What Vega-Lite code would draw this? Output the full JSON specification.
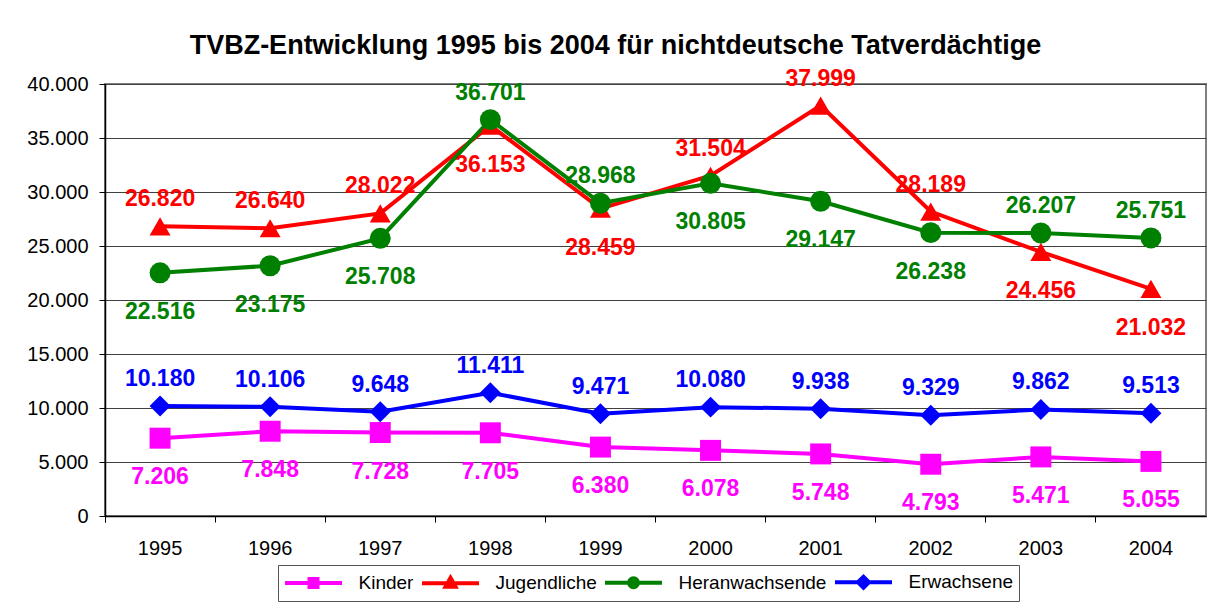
{
  "$schema": "https://vega.github.io/schema/vega-lite/v6.json",
  "autosize": {"type": "none"},
  "width": 1101,
  "height": 432,
  "padding": {"left": 105, "top": 84, "right": 14, "bottom": 96},
  "background": "white",
  "title": {
    "text": "TVBZ-Entwicklung 1995 bis 2004 für nichtdeutsche Tatverdächtige",
    "font": "Liberation Sans",
    "fontSize": 27,
    "fontWeight": "bold",
    "color": "black",
    "anchor": "middle",
    "frame": "group",
    "dx": -40,
    "offset": 8
  },
  "config": {
    "locale": {"number": {"decimal": ",", "thousands": ".", "grouping": [3], "currency": ["", " €"]}},
    "view": {"stroke": "#808080", "strokeWidth": 2},
    "font": "Liberation Sans"
  },
  "data": {
    "values": [
      {"Jahr": "1995", "Gruppe": "Kinder", "TVBZ": 7206},
      {"Jahr": "1996", "Gruppe": "Kinder", "TVBZ": 7848},
      {"Jahr": "1997", "Gruppe": "Kinder", "TVBZ": 7728},
      {"Jahr": "1998", "Gruppe": "Kinder", "TVBZ": 7705},
      {"Jahr": "1999", "Gruppe": "Kinder", "TVBZ": 6380},
      {"Jahr": "2000", "Gruppe": "Kinder", "TVBZ": 6078},
      {"Jahr": "2001", "Gruppe": "Kinder", "TVBZ": 5748},
      {"Jahr": "2002", "Gruppe": "Kinder", "TVBZ": 4793},
      {"Jahr": "2003", "Gruppe": "Kinder", "TVBZ": 5471},
      {"Jahr": "2004", "Gruppe": "Kinder", "TVBZ": 5055},
      {"Jahr": "1995", "Gruppe": "Jugendliche", "TVBZ": 26820},
      {"Jahr": "1996", "Gruppe": "Jugendliche", "TVBZ": 26640},
      {"Jahr": "1997", "Gruppe": "Jugendliche", "TVBZ": 28022},
      {"Jahr": "1998", "Gruppe": "Jugendliche", "TVBZ": 36153},
      {"Jahr": "1999", "Gruppe": "Jugendliche", "TVBZ": 28459},
      {"Jahr": "2000", "Gruppe": "Jugendliche", "TVBZ": 31504},
      {"Jahr": "2001", "Gruppe": "Jugendliche", "TVBZ": 37999},
      {"Jahr": "2002", "Gruppe": "Jugendliche", "TVBZ": 28189},
      {"Jahr": "2003", "Gruppe": "Jugendliche", "TVBZ": 24456},
      {"Jahr": "2004", "Gruppe": "Jugendliche", "TVBZ": 21032},
      {"Jahr": "1995", "Gruppe": "Heranwachsende", "TVBZ": 22516},
      {"Jahr": "1996", "Gruppe": "Heranwachsende", "TVBZ": 23175},
      {"Jahr": "1997", "Gruppe": "Heranwachsende", "TVBZ": 25708},
      {"Jahr": "1998", "Gruppe": "Heranwachsende", "TVBZ": 36701},
      {"Jahr": "1999", "Gruppe": "Heranwachsende", "TVBZ": 28968},
      {"Jahr": "2000", "Gruppe": "Heranwachsende", "TVBZ": 30805},
      {"Jahr": "2001", "Gruppe": "Heranwachsende", "TVBZ": 29147},
      {"Jahr": "2002", "Gruppe": "Heranwachsende", "TVBZ": 26238},
      {"Jahr": "2003", "Gruppe": "Heranwachsende", "TVBZ": 26207},
      {"Jahr": "2004", "Gruppe": "Heranwachsende", "TVBZ": 25751},
      {"Jahr": "1995", "Gruppe": "Erwachsene", "TVBZ": 10180},
      {"Jahr": "1996", "Gruppe": "Erwachsene", "TVBZ": 10106},
      {"Jahr": "1997", "Gruppe": "Erwachsene", "TVBZ": 9648},
      {"Jahr": "1998", "Gruppe": "Erwachsene", "TVBZ": 11411},
      {"Jahr": "1999", "Gruppe": "Erwachsene", "TVBZ": 9471},
      {"Jahr": "2000", "Gruppe": "Erwachsene", "TVBZ": 10080},
      {"Jahr": "2001", "Gruppe": "Erwachsene", "TVBZ": 9938},
      {"Jahr": "2002", "Gruppe": "Erwachsene", "TVBZ": 9329},
      {"Jahr": "2003", "Gruppe": "Erwachsene", "TVBZ": 9862},
      {"Jahr": "2004", "Gruppe": "Erwachsene", "TVBZ": 9513}
    ]
  },
  "transform": [
    {"window": [{"op": "rank", "as": "rang"}], "groupby": ["Jahr"], "sort": [{"field": "TVBZ", "order": "descending"}]},
    {"calculate": "datum.Gruppe", "as": "Symbol"}
  ],
  "encoding": {
    "x": {
      "field": "Jahr", "type": "ordinal", "bandPosition": 0.5,
      "scale": {"type": "band", "paddingInner": 0, "paddingOuter": 0},
      "axis": {
        "title": null, "labelAngle": 0, "labelFontSize": 20, "labelColor": "black",
        "labelFont": "Liberation Sans", "bandPosition": 0, "tickExtra": true,
        "tickSize": 6, "tickColor": "black", "domainColor": "black", "domainWidth": 1.5,
        "labelPadding": 16, "grid": false
      }
    },
    "y": {
      "field": "TVBZ", "type": "quantitative",
      "scale": {"domain": [0, 40000], "nice": false},
      "axis": {
        "title": null, "values": [0, 5000, 10000, 15000, 20000, 25000, 30000, 35000, 40000],
        "format": ",d", "labelFontSize": 20, "labelColor": "black", "labelFont": "Liberation Sans",
        "tickSize": 6, "tickColor": "black", "domainColor": "black", "domainWidth": 1.5,
        "labelPadding": 11, "grid": true, "gridColor": "#404040", "gridWidth": 1
      }
    },
    "color": {
      "field": "Gruppe", "type": "nominal",
      "scale": {"domain": ["Kinder", "Jugendliche", "Heranwachsende", "Erwachsene"], "range": ["#FF00FF", "#FF0000", "#008000", "#0000FF"]},
      "legend": {
        "orient": "none", "legendX": 173, "legendY": 481, "direction": "horizontal", "columns": 4,
        "title": null, "strokeColor": "#555555", "fillColor": "white", "padding": 5,
        "labelFontSize": 19, "labelFont": "Liberation Sans", "labelColor": "black",
        "symbolSize": 400, "symbolStrokeWidth": 4, "symbolOffset": 18.5, "labelOffset": 33, "columnPadding": 0,
        "encode": {
          "symbols": {
            "update": {
              "shape": {"signal": "datum.value === 'Kinder' ? 'M-2.85,0H2.85M-0.4,-0.4H0.4V0.4H-0.4Z' : datum.value === 'Jugendliche' ? 'M-2.85,0H2.85M0,-0.55L0.5,0.35H-0.5Z' : datum.value === 'Heranwachsende' ? 'M-2.85,0H2.85M-0.45,0A0.45,0.45 0 1,1 0.45,0A0.45,0.45 0 1,1 -0.45,0Z' : 'M-2.85,0H2.85M-0.55,0L0,-0.55L0.55,0L0,0.55Z'"},
              "strokeWidth": {"value": 4},
              "opacity": {"value": 1}
            }
          }
        }
      }
    }
  },
  "layer": [
    {
      "mark": {"type": "line", "strokeWidth": 4}
    },
    {
      "mark": {"type": "point", "filled": true, "opacity": 1, "size": 440},
      "encoding": {
        "shape": {
          "field": "Symbol", "type": "nominal", "legend": null,
          "scale": {"range": ["diamond", "circle", "triangle-up", "square"]}
        }
      }
    },
    {
      "transform": [{"filter": "datum.rang % 2 == 1"}],
      "mark": {"type": "text", "fontSize": 23, "fontWeight": "bold", "font": "Liberation Sans", "dy": -27, "baseline": "middle"},
      "encoding": {"text": {"field": "TVBZ", "type": "quantitative", "format": ",d"}}
    },
    {
      "transform": [{"filter": "datum.rang % 2 == 0"}],
      "mark": {"type": "text", "fontSize": 23, "fontWeight": "bold", "font": "Liberation Sans", "dy": 39, "baseline": "middle"},
      "encoding": {"text": {"field": "TVBZ", "type": "quantitative", "format": ",d"}}
    }
  ]
}
